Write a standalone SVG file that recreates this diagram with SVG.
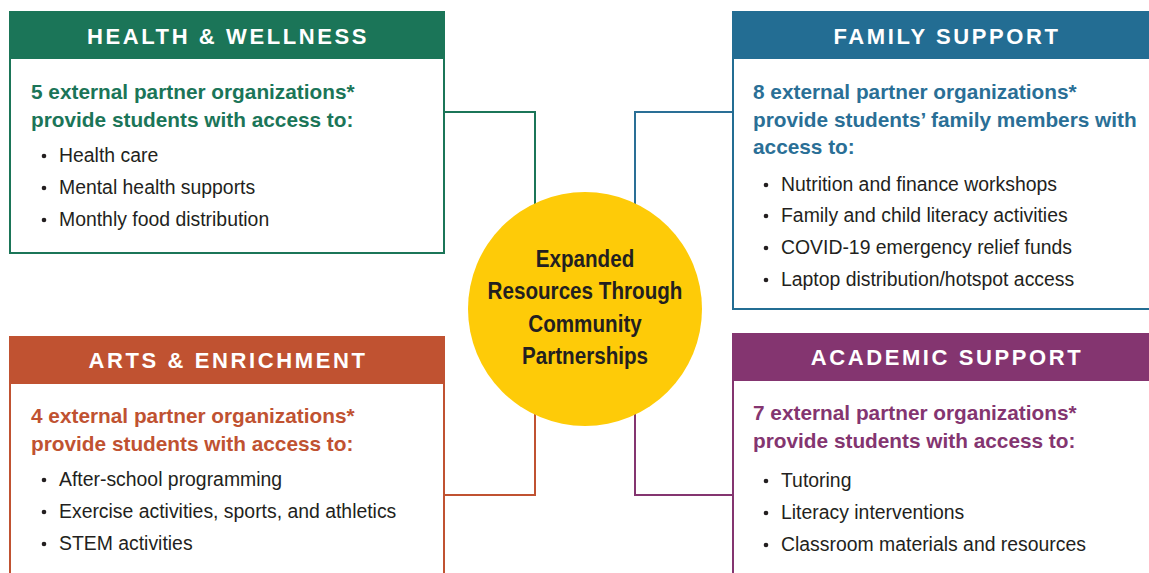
<svg xmlns="http://www.w3.org/2000/svg" width="1149" height="573" viewBox="0 0 1149 573">
<style>
.box{fill:#fff;stroke-width:2}
.ttl{font-family:"Liberation Sans",Arial,sans-serif;font-weight:bold;font-size:22px;fill:#fff;letter-spacing:2.6px;text-anchor:middle}
.lead{font-family:"Liberation Sans",Arial,sans-serif;font-weight:bold;font-size:20.8px}
.item{font-family:"Liberation Sans",Arial,sans-serif;font-size:19.4px;fill:#231f20}
.dot{fill:#231f20}
.ctr{font-family:"Liberation Sans",Arial,sans-serif;font-weight:bold;font-size:24px;fill:#231f20;text-anchor:middle}
.con{fill:none;stroke-width:2}
</style>
<rect width="1149" height="573" fill="#fff"/>
<g id="connectors">
<polyline class="con" stroke="#1b7558" points="444,112 535,112 535,205"/>
<polyline class="con" stroke="#2a6f96" points="732,112 635,112 635,205"/>
<polyline class="con" stroke="#c05231" points="444,495 535,495 535,410"/>
<polyline class="con" stroke="#843570" points="732,495 635,495 635,410"/>
</g>
<g id="health">
<rect class="box" x="10" y="12" width="434" height="241" stroke="#1b7558"/>
<rect x="9" y="11" width="436" height="48" fill="#1b7558"/>
<text class="ttl" x="228" y="44">HEALTH &amp; WELLNESS</text>
<text class="lead" fill="#1b7558"><tspan x="31" y="99">5 external partner organizations*</tspan><tspan x="31" y="127">provide students with access to:</tspan></text>
<circle class="dot" cx="44" cy="156" r="2.3"/><circle class="dot" cx="44" cy="188" r="2.3"/><circle class="dot" cx="44" cy="220" r="2.3"/>
<text class="item"><tspan x="59" y="162">Health care</tspan><tspan x="59" y="194">Mental health supports</tspan><tspan x="59" y="226">Monthly food distribution</tspan></text>
</g>
<g id="family">
<rect class="box" x="733" y="12" width="420" height="297" stroke="#236d93"/>
<rect x="732" y="11" width="420" height="48" fill="#236d93"/>
<text class="ttl" x="947" y="44">FAMILY SUPPORT</text>
<text class="lead" fill="#2a6f96"><tspan x="753" y="99">8 external partner organizations*</tspan><tspan x="753" y="127">provide students’ family members with</tspan><tspan x="753" y="154">access to:</tspan></text>
<circle class="dot" cx="766" cy="185" r="2.3"/><circle class="dot" cx="766" cy="216" r="2.3"/><circle class="dot" cx="766" cy="248" r="2.3"/><circle class="dot" cx="766" cy="280" r="2.3"/>
<text class="item"><tspan x="781" y="191">Nutrition and finance workshops</tspan><tspan x="781" y="222">Family and child literacy activities</tspan><tspan x="781" y="254">COVID-19 emergency relief funds</tspan><tspan x="781" y="286">Laptop distribution/hotspot access</tspan></text>
</g>
<g id="arts">
<rect class="box" x="10" y="337" width="434" height="250" stroke="#c05231"/>
<rect x="9" y="336" width="436" height="48" fill="#c05231"/>
<text class="ttl" x="228" y="368">ARTS &amp; ENRICHMENT</text>
<text class="lead" fill="#c05231"><tspan x="31" y="423">4 external partner organizations*</tspan><tspan x="31" y="451">provide students with access to:</tspan></text>
<circle class="dot" cx="44" cy="480" r="2.3"/><circle class="dot" cx="44" cy="512" r="2.3"/><circle class="dot" cx="44" cy="544" r="2.3"/>
<text class="item"><tspan x="59" y="486">After-school programming</tspan><tspan x="59" y="518">Exercise activities, sports, and athletics</tspan><tspan x="59" y="550">STEM activities</tspan></text>
</g>
<g id="academic">
<rect class="box" x="733" y="334" width="420" height="250" stroke="#843570"/>
<rect x="732" y="333" width="420" height="48" fill="#843570"/>
<text class="ttl" x="947" y="365">ACADEMIC SUPPORT</text>
<text class="lead" fill="#843570"><tspan x="753" y="420">7 external partner organizations*</tspan><tspan x="753" y="448">provide students with access to:</tspan></text>
<circle class="dot" cx="766" cy="481" r="2.3"/><circle class="dot" cx="766" cy="513" r="2.3"/><circle class="dot" cx="766" cy="545" r="2.3"/>
<text class="item"><tspan x="781" y="487">Tutoring</tspan><tspan x="781" y="519">Literacy interventions</tspan><tspan x="781" y="551">Classroom materials and resources</tspan></text>
</g>
<g id="center">
<circle cx="585" cy="309" r="117" fill="#fecb08"/>
<text class="ctr" transform="translate(585,0) scale(0.86,1)"><tspan x="0" y="267">Expanded</tspan><tspan x="0" y="299">Resources Through</tspan><tspan x="0" y="332">Community</tspan><tspan x="0" y="364">Partnerships</tspan></text>
</g>
</svg>
